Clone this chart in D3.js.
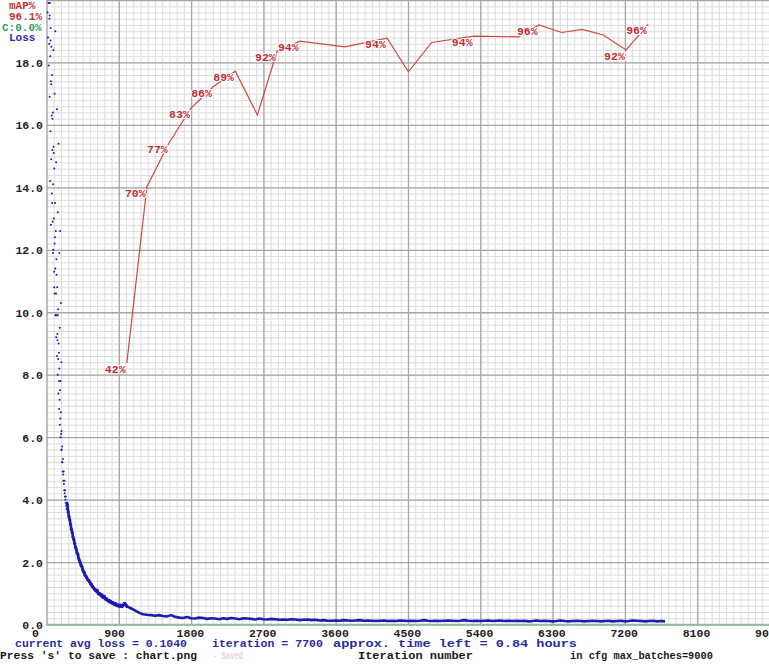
<!DOCTYPE html>
<html><head><meta charset="utf-8">
<script src="https://cdn.jsdelivr.net/npm/d3@7/dist/d3.min.js"></script>
<style>
html,body{margin:0;padding:0;background:#fff;}
svg{display:block;}
text{font-family:"Liberation Mono","DejaVu Sans Mono",monospace;font-weight:bold;}
</style></head>
<body>
<svg id="chart" width="769" height="665"></svg>
<script>
// ---------- DATA ----------
const xTicks = [0, 900, 1800, 2700, 3600, 4500, 5400, 6300, 7200, 8100, 9000];
const yTicks = [0, 2, 4, 6, 8, 10, 12, 14, 16, 18];
const maxBatches = 9000;
const maxLoss = 20;

// early loss (scatter), iterations start 10 step 3
const earlyStart = 10, earlyStep = 3;
const earlyLoss = [22.5,19.6,21.0,18.8,20.4,19.9,17.9,20.8,18.6,19.4,16.9,19.9,18.2,15.8,19.1,17.4,14.9,18.5,16.3,13.8,
  17.6,15.2,12.9,16.4,14.1,12.0,15.3,13.0,11.3,14.6,12.2,10.6,13.5,11.4,9.9,12.6,10.6,9.2,11.7,9.9,
  8.6,10.8,9.1,8.0,9.9,8.5,7.4,9.0,7.8,6.9,8.2,7.2,6.4,7.5,6.6,6.0,6.8,6.1,5.6,6.2,
  5.6,5.2,5.7,5.2,4.9,5.3,4.8,4.6,4.9,4.5,4.3,4.6,4.2,4.1,4.3,4.0,3.9,4.1,3.8,3.9,
  3.7,3.9,3.8,3.9];
// more noisy early loss, iterations start 40 step 5
const early2Start = 40, early2Step = 5;
const early2Loss = [19.5,14.2,18.7,12.8,17.3,20.1,13.5,16.2,11.9,18.4,15.1,10.8,17.0,12.4,19.0,9.9,14.8,11.2,16.5,9.3,
  13.2,10.1,15.4,8.7,11.9,9.5,12.6,7.8,10.3,8.4];

// loss segment A: iterations 260..1000 step 10
const segAStart = 260, segAStep = 10;
const segALoss = [3.85,3.6,3.45,3.35,3.2,3.05,2.95,2.8,2.72,2.6,2.48,2.42,2.3,2.25,2.12,2.05,1.98,1.9,1.86,1.76,
  1.7,1.66,1.58,1.55,1.5,1.46,1.42,1.4,1.35,1.3,1.28,1.22,1.2,1.16,1.12,1.1,1.07,1.1,1.02,0.98,
  1.0,0.96,0.92,0.95,0.88,0.86,0.9,0.84,0.8,0.82,0.78,0.75,0.77,0.72,0.74,0.7,0.68,0.7,0.66,0.64,
  0.67,0.62,0.6,0.63,0.6,0.58,0.62,0.6,0.57,0.6,0.64,0.68,0.66,0.62,0.58];

// loss segment B: iterations 1050..7700 step 50
const segBStart = 1050, segBStep = 50;
const segBLoss = [0.52,0.45,0.38,0.33,0.31,0.3,0.28,0.3,0.27,0.26,0.3,0.25,0.22,0.21,0.24,0.2,0.19,0.22,0.21,0.18,
  0.2,0.19,0.17,0.2,0.18,0.21,0.19,0.17,0.2,0.19,0.18,0.16,0.19,0.17,0.16,0.18,0.17,0.15,0.16,0.15,
  0.17,0.16,0.14,0.15,0.16,0.14,0.15,0.13,0.14,0.12,0.12,0.13,0.12,0.14,0.13,0.12,0.13,0.14,0.12,0.13,
  0.12,0.11,0.12,0.13,0.11,0.12,0.11,0.13,0.12,0.11,0.12,0.11,0.12,0.14,0.12,0.11,0.12,0.11,0.12,0.13,
  0.12,0.11,0.12,0.14,0.12,0.11,0.12,0.11,0.12,0.13,0.11,0.12,0.13,0.11,0.12,0.11,0.12,0.11,0.12,0.1,
  0.11,0.13,0.11,0.12,0.11,0.1,0.11,0.13,0.11,0.1,0.11,0.12,0.11,0.1,0.11,0.12,0.11,0.1,0.11,0.12,
  0.1,0.11,0.12,0.1,0.11,0.13,0.12,0.11,0.1,0.11,0.12,0.1,0.11,0.1];

// mAP series
const mapIters = [1000,1250,1525,1800,2075,2350,2625,2870,3155,3715,4240,4505,4795,5320,5875,6130,6415,6670,6930,7215,7355,7490];
const mapValues = [41.9,70.1,77.1,82.7,86.1,88.6,81.6,91.8,93.4,92.5,93.9,88.5,93.2,94.2,94.1,96.0,94.8,95.3,94.4,92.0,94.1,96.1];
const mapLabels = ["42%","70%","77%","83%","86%","89%","","92%","94%","","94%","","","94%","","96%","","","","92%","","96%"];

const legendTexts = ["mAP%","96.1%","C:0.0%","Loss"];
const footerTexts = ["current avg loss = 0.1040","iteration = 7700","approx. time left = 0.84 hours",
  "Press 's' to save : chart.png","- Saved","Iteration number","in cfg max_batches=9000"];

// ---------- DRAW ----------
const svg = d3.select("#chart");
const x = d3.scaleLinear().domain([0, maxBatches]).range([46.5, 769.5]);
const y = d3.scaleLinear().domain([0, maxLoss]).range([624.5, 0]);

svg.append("rect").attr("width",769).attr("height",665).attr("fill","#fff");

// minor grid
const minorX = d3.range(0, maxBatches + 1, 90);
const minorY = d3.range(0, maxLoss + 0.001, 0.2);
const gMinor = svg.append("g");
gMinor.append("g").attr("transform","translate(0,624.5)")
  .call(d3.axisBottom(x).tickValues(minorX).tickSize(-624.5).tickFormat(""))
  .call(g=>{g.select(".domain").remove(); g.selectAll("line").attr("stroke","#dcdcdc").attr("stroke-width",1);});
gMinor.append("g").attr("transform","translate(46.5,0)")
  .call(d3.axisLeft(y).tickValues(minorY).tickSize(-723).tickFormat(""))
  .call(g=>{g.select(".domain").remove(); g.selectAll("line").attr("stroke","#dcdcdc").attr("stroke-width",1);});

// major grid
svg.append("g").attr("transform","translate(0,624.5)")
  .call(d3.axisBottom(x).tickValues(xTicks).tickSize(-624.5).tickFormat(""))
  .call(g=>{g.select(".domain").remove(); g.selectAll("line").attr("stroke","#a6a6a6").attr("stroke-width",1.3);});
svg.append("g").attr("transform","translate(46.5,0)")
  .call(d3.axisLeft(y).tickValues(yTicks.concat([20])).tickSize(-723).tickFormat(""))
  .call(g=>{g.select(".domain").remove(); g.selectAll("line").attr("stroke","#a6a6a6").attr("stroke-width",1.3);});

// green baseline (C accuracy)
svg.append("line").attr("x1",x(0)).attr("x2",x(maxBatches)).attr("y1",y(0)).attr("y2",y(0))
  .attr("stroke","#8fbf9a").attr("stroke-width",1.6);

// axis labels
svg.append("g").attr("transform","translate(0,624.5)")
  .call(d3.axisBottom(x).tickValues(xTicks).tickSize(0).tickFormat(d=>String(d)))
  .call(g=>{g.select(".domain").remove();
    g.selectAll("text").attr("text-anchor","start").attr("dx",-15).attr("y",12).attr("dy",0)
     .attr("font-size","11.5px").attr("fill","#222").attr("font-family","Liberation Mono").attr("font-weight","bold");});
svg.append("g").attr("transform","translate(43,0)")
  .call(d3.axisLeft(y).tickValues(yTicks).tickSize(0).tickFormat(d=>d.toFixed(1)))
  .call(g=>{g.select(".domain").remove();
    g.selectAll("text").attr("x",0).attr("dy","0.35em")
     .attr("font-size","11.5px").attr("fill","#222").attr("font-family","Liberation Mono").attr("font-weight","bold");});

// loss
const blue = "#1c1cb0";
const ptsEarly = earlyLoss.map((v,i)=>[earlyStart + i*earlyStep, v])
  .concat(early2Loss.map((v,i)=>[early2Start + i*early2Step, v]));
const ptsA = segALoss.map((v,i)=>[segAStart + i*segAStep, v]);
const ptsB = segBLoss.map((v,i)=>[segBStart + i*segBStep, v]);
const clipped = p => p[1] <= maxLoss + 0.3;
svg.append("g").selectAll("circle").data(ptsEarly.filter(clipped)).join("circle")
  .attr("cx",d=>x(d[0])).attr("cy",d=>y(d[1])).attr("r",1.0).attr("fill",blue);
const lineGen = d3.line().x(d=>x(d[0])).y(d=>y(d[1]));
svg.append("path").datum(ptsA.concat(ptsB)).attr("d",lineGen)
  .attr("fill","none").attr("stroke",blue).attr("stroke-width",2.6).attr("stroke-linejoin","round");
svg.append("g").selectAll("circle").data(ptsA).join("circle")
  .attr("cx",d=>x(d[0])).attr("cy",d=>y(d[1])).attr("r",1.6).attr("fill",blue);

// mAP line
const mapPts = mapIters.map((it,i)=>[it, mapValues[i]/100*maxLoss, mapLabels[i]]);
svg.append("path").datum(mapPts).attr("d",lineGen)
  .attr("fill","none").attr("stroke","#d04646").attr("stroke-width",1.2);
svg.append("g").selectAll("text").data(mapPts.filter(d=>d[2])).join("text")
  .attr("x",d=>x(d[0])-22).attr("y",d=>y(d[1])+10)
  .attr("font-size","11.5px").attr("fill","#c42a30")
  .attr("stroke","#fff").attr("stroke-width",2).attr("paint-order","stroke")
  .text(d=>d[2]);

// legend
const legendColors = ["#c83232","#c83232","#2f9a5a","#2a2aa8"];
const legendX = [9, 9, 2, 9];
const legendY = [9, 20, 31, 41];
legendTexts.forEach((t,i)=>{
  svg.append("text").attr("x",legendX[i]).attr("y",legendY[i]).attr("font-size","11px")
    .attr("fill",legendColors[i]).text(t);
});

// footer
const footX = [15, 212, 333, 0, 213, 358, 570];
const footY = [647, 647, 647, 659, 659, 659, 659];
const footLen = [172, 111, 244, 197, 30, 115, 143];
const footCol = ["#2c2c96","#2c2c96","#2c2c96","#1a1a1a","#f2d0d6","#1a1a1a","#1a1a1a"];
footerTexts.forEach((t,i)=>{
  svg.append("text").attr("x",footX[i]).attr("y",footY[i]).attr("font-size","11.5px")
    .attr("fill",footCol[i]).attr("textLength",footLen[i]).attr("lengthAdjust","spacingAndGlyphs").text(t);
});
</script>
</body></html>
